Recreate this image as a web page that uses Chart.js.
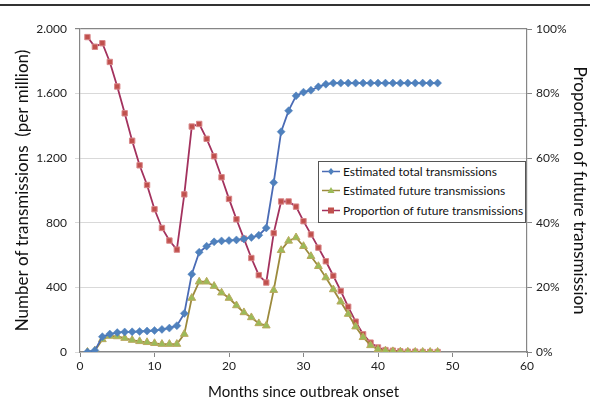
<!DOCTYPE html>
<html>
<head>
<meta charset="utf-8">
<script src="https://cdn.jsdelivr.net/npm/chart.js@4/dist/chart.umd.min.js"></script>
<style>
  html, body { margin: 0; padding: 0; background: #fff; }
  #wrap { position: relative; width: 590px; height: 401px; }
  #topline { position: absolute; left: 0; top: 4px; width: 590px; height: 2px; background: #333; }
  #legend { position: absolute; left: 318px; top: 161px; width: 206px; height: 60px;
    border: 1px solid #555; background: #fff; font-family: Lato, "Open Sans", sans-serif; font-size: 12px; color: #111; }
  .row { position: absolute; left: 3px; height: 19px; line-height: 19px; white-space: nowrap; }
  .row svg { position: absolute; left: 0; top: 4px; }
  .row span { position: absolute; left: 21px; top: 0; }
</style>
</head>
<body>
<div id="wrap">
  <canvas id="c" width="590" height="401"></canvas>
  <div id="topline"></div>
  <div id="legend">
    <div class="row" style="top:0px"><svg width="20" height="11"><line x1="0" y1="5.5" x2="18" y2="5.5" stroke="#4A6BB5" stroke-width="1.5"/><polygon points="9,2 12,5.5 9,9 6,5.5" fill="#4F81BD"/></svg><span>Estimated total transmissions</span></div>
    <div class="row" style="top:19px"><svg width="20" height="11"><line x1="0" y1="5.5" x2="18" y2="5.5" stroke="#9C8A3C" stroke-width="1.5"/><polygon points="9,2 12.5,8 5.5,8" fill="#9BBB59"/></svg><span>Estimated future transmissions</span></div>
    <div class="row" style="top:39px"><svg width="20" height="11"><line x1="0" y1="5.5" x2="18" y2="5.5" stroke="#A3325E" stroke-width="1.5"/><rect x="6" y="2.5" width="6" height="6" fill="#C0504D"/></svg><span>Proportion of future transmissions</span></div>
  </div>
</div>
<script>
const months = [1,2,3,4,5,6,7,8,9,10,11,12,13,14,15,16,17,18,19,20,21,22,23,24,25,26,27,28,29,30,31,32,33,34,35,36,37,38,39,40,41,42,43,44,45,46,47,48];
const totalTransmissions = [0,10,95,111,120,124,125,127,130,133,140,148,163,239,482,618,655,682,688,690,694,700,709,723,768,1049,1364,1494,1586,1609,1621,1642,1658,1665,1665,1665,1665,1665,1665,1665,1665,1665,1665,1665,1665,1665,1665,1665];
const futureTransmissions = [0,8,78,99,96,86,74,66,60,54,49,49,49,111,334,435,435,408,367,334,288,245,214,177,163,383,630,688,709,655,593,531,461,387,311,235,157,91,41,16,8,4,2,1,0,0,0,0];
const proportionFuture = [97.5,94.5,95.6,89.8,82.2,73.9,65.4,57.8,51.7,44.2,38.4,34.5,31.7,48.8,69.8,70.6,66.0,60.6,54.1,47.4,41.1,35.1,29.1,23.8,21.5,36.8,46.6,46.6,45.0,40.5,36.4,32.3,28.1,23.6,18.9,14.0,9.4,5.5,2.9,1.4,0.6,0.4,0.2,0.1,0.1,0,0,0];
const leftTicks = [0,400,800,1200,1600,2000];
const rightTicks = [0,20,40,60,80,100];

const pts = arr => months.map((m,i) => ({x:m, y:arr[i]}));
const FONT = 'Lato, "Open Sans", sans-serif';

new Chart(document.getElementById('c'), {
  type: 'line',
  data: {
    datasets: [
      { label: 'Estimated total transmissions', data: pts(totalTransmissions), yAxisID: 'y',
        borderColor: '#4A6BB5', backgroundColor: '#4F81BD', borderWidth: 1.8,
        pointStyle: 'rectRot', pointRadius: 4, pointBorderColor: '#4F81BD', pointBorderWidth: 0.5, order: 1 },
      { label: 'Estimated future transmissions', data: pts(futureTransmissions), yAxisID: 'y',
        borderColor: '#9C8A3C', backgroundColor: '#9BBB59', borderWidth: 1.8,
        pointStyle: 'triangle', pointRadius: 4.5, pointBorderColor: '#B9A95E', pointBorderWidth: 1, order: 2 },
      { label: 'Proportion of future transmissions', data: pts(proportionFuture), yAxisID: 'y2',
        borderColor: '#A3325E', backgroundColor: '#C0504D', borderWidth: 1.8,
        pointStyle: 'rect', pointRadius: 3.8, pointBorderColor: '#D9888A', pointBorderWidth: 1, order: 3 }
    ]
  },
  options: {
    responsive: false, animation: false,
    layout: { padding: { top: 29, left: 0, right: 0, bottom: 0 } },
    plugins: { legend: { display: false }, tooltip: { enabled: false } },
    scales: {
      x: { type: 'linear', min: 0, max: 60,
        ticks: { stepSize: 10, color: '#222', font: { family: FONT, size: 12 }, padding: 2, maxRotation: 0 },
        grid: { drawOnChartArea: false, color: '#868686', tickLength: 5 },
        border: { color: '#868686', width: 1.2 },
        title: { display: true, text: 'Months since outbreak onset', color: '#111', font: { family: FONT, size: 15 }, padding: { top: 2, bottom: 0 } },
        afterFit: s => { s.height = 49; } },
      y: { position: 'left', min: 0, max: 2000,
        afterBuildTicks: s => { s.ticks = leftTicks.map(v => ({value: v})); },
        ticks: { color: '#222', font: { family: FONT, size: 12 }, padding: 8,
          callback: v => v >= 1000 ? Math.floor(v/1000) + '.' + String(v%1000).padStart(3,'0') : String(v) },
        grid: { color: ctx => ctx.tick && ctx.tick.value === 2000 ? '#868686' : '#D9D9D9', lineWidth: ctx => ctx.tick && ctx.tick.value === 2000 ? 1.2 : 1, tickLength: 5 },
        border: { color: '#868686', width: 1.2 },
        title: { display: true, text: 'Number of transmissions  (per million)', color: '#111', font: { family: FONT, size: 17 }, padding: { top: 12, bottom: 0 } },
        afterFit: s => { s.width = 80; } },
      y2: { position: 'right', min: 0, max: 100,
        afterBuildTicks: s => { s.ticks = rightTicks.map(v => ({value: v})); },
        ticks: { color: '#222', font: { family: FONT, size: 12 }, padding: 4, callback: v => v + '%' },
        grid: { drawOnChartArea: false, color: '#868686', tickLength: 5 },
        border: { color: '#868686', width: 1.2 },
        title: { display: true, text: 'Proportion of future transmission', color: '#111', font: { family: FONT, size: 17 }, padding: { top: 0, bottom: 0 } },
        afterFit: s => { s.width = 63; } }
    }
  }
});
</script>
</body>
</html>
